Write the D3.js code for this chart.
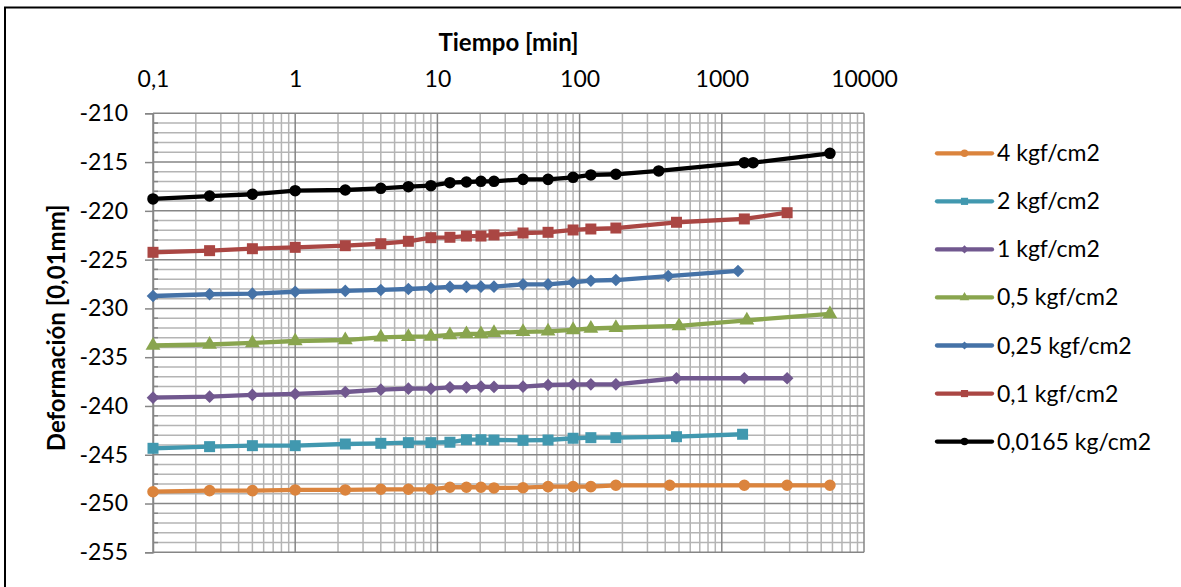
<!DOCTYPE html>
<html><head><meta charset="utf-8">
<script src="https://cdn.jsdelivr.net/npm/d3@7"></script>
<style>
body{margin:0;background:#fff}
svg{display:block}
text{font-family:Lato,'Open Sans',sans-serif;fill:#000}
</style></head>
<body>
<svg id="chart" width="1181" height="587"></svg>
<script>
// ---- data ----
const xTickValues = [0.1, 1, 10, 100, 1000, 10000];
const xTickLabels = ["0,1", "1", "10", "100", "1000", "10000"];
const yTickValues = [-210, -215, -220, -225, -230, -235, -240, -245, -250, -255];

const seriesNames = ["4 kgf/cm2", "2 kgf/cm2", "1 kgf/cm2", "0,5 kgf/cm2", "0,25 kgf/cm2", "0,1 kgf/cm2", "0,0165 kg/cm2"];
const seriesColors = ["#DB843D", "#4198AF", "#71588F", "#89A54E", "#4572A7", "#AA4643", "#000000"];
const seriesMarkers = ["circle", "square", "diamond", "triangle", "diamond", "square", "circle"];

const t4 = [0.1,0.25,0.5,1,2.25,4,6.25,9,12.25,16,20.25,25,40,60,90,120,180,430,1440,2880,5760];
const d4 = [-248.79,-248.68,-248.68,-248.61,-248.61,-248.54,-248.54,-248.54,-248.33,-248.33,-248.33,-248.4,-248.38,-248.27,-248.27,-248.27,-248.13,-248.13,-248.13,-248.13,-248.13];

const t2 = [0.1,0.25,0.5,1,2.25,4,6.25,9,12.25,16,20.25,25,40,60,90,120,180,480,1400];
const d2 = [-244.34,-244.17,-244.07,-244.07,-243.9,-243.83,-243.76,-243.76,-243.72,-243.46,-243.46,-243.49,-243.52,-243.49,-243.31,-243.25,-243.25,-243.15,-242.9];

const t1 = [0.1,0.25,0.5,1,2.25,4,6.25,9,12.25,16,20.25,25,40,60,90,120,180,480,1440,2880];
const d1 = [-239.15,-239.05,-238.87,-238.77,-238.57,-238.33,-238.23,-238.23,-238.09,-238.09,-238.02,-238.05,-238.02,-237.85,-237.8,-237.78,-237.78,-237.16,-237.16,-237.16];

const t05 = [0.1,0.25,0.5,1,2.25,4,6.25,9,12.25,16,20.25,25,40,60,90,120,180,500,1500,5760];
const d05 = [-233.8,-233.7,-233.54,-233.34,-233.24,-232.96,-232.9,-232.88,-232.72,-232.62,-232.62,-232.49,-232.4,-232.35,-232.2,-232.06,-231.98,-231.8,-231.22,-230.57];

const t025 = [0.1,0.25,0.5,1,2.25,4,6.25,9,12.25,16,20.25,25,40,60,90,120,180,420,1300];
const d025 = [-228.73,-228.55,-228.49,-228.29,-228.21,-228.11,-228.01,-227.91,-227.8,-227.8,-227.77,-227.77,-227.53,-227.53,-227.32,-227.16,-227.09,-226.68,-226.16];

const t01 = [0.1,0.25,0.5,1,2.25,4,6.25,9,12.25,16,20.25,25,40,60,90,120,180,480,1440,2880];
const d01 = [-224.25,-224.08,-223.88,-223.74,-223.57,-223.37,-223.12,-222.75,-222.71,-222.58,-222.58,-222.47,-222.27,-222.2,-221.96,-221.86,-221.76,-221.17,-220.83,-220.19];

const t00165 = [0.1,0.25,0.5,1,2.25,4,6.25,9,12.25,16,20.25,25,40,60,90,120,180,360,1440,1660,5760];
const d00165 = [-218.78,-218.48,-218.3,-217.93,-217.86,-217.69,-217.52,-217.42,-217.11,-217.04,-216.97,-216.97,-216.77,-216.77,-216.56,-216.32,-216.25,-215.91,-215.06,-215.06,-214.1];

const seriesTimes = [t4, t2, t1, t05, t025, t01, t00165];
const seriesValues = [d4, d2, d1, d05, d025, d01, d00165];

// ---- layout ----
const svg = d3.select("#chart");
const L = 153, R = 864, T = 113.3, B = 552.3;
const x = d3.scaleLog().domain([0.1, 10000]).range([L, R]);
const y = d3.scaleLinear().domain([-255, -210]).range([B, T]);
const FONT = 23;

// outer frame
svg.append("rect").attr("x", 5).attr("y", 7.5).attr("width", 1300).attr("height", 700)
  .attr("fill", "none").attr("stroke", "#000").attr("stroke-width", 2);

// grid
const grid = svg.append("g");
const minorX = [];
for (let e = -1; e <= 3; e++) for (let k = 2; k <= 9; k++) minorX.push(k * Math.pow(10, e));
grid.selectAll(".mx").data(minorX).enter().append("line")
  .attr("x1", d => x(d)).attr("x2", d => x(d)).attr("y1", T).attr("y2", B)
  .attr("stroke", "#b4b4b4").attr("stroke-width", 1.5);
const minorY = d3.range(-254, -210).filter(v => v % 5 !== 0);
grid.selectAll(".my").data(minorY).enter().append("line")
  .attr("x1", L).attr("x2", R).attr("y1", d => y(d)).attr("y2", d => y(d))
  .attr("stroke", "#b4b4b4").attr("stroke-width", 1.5);
grid.selectAll(".Mx").data(xTickValues).enter().append("line")
  .attr("x1", d => x(d)).attr("x2", d => x(d)).attr("y1", T).attr("y2", B)
  .attr("stroke", "#868686").attr("stroke-width", 1.5);
grid.selectAll(".My").data(yTickValues).enter().append("line")
  .attr("x1", L).attr("x2", R).attr("y1", d => y(d)).attr("y2", d => y(d))
  .attr("stroke", "#868686").attr("stroke-width", 1.5);

// y axis
const yAxis = d3.axisLeft(y).tickValues(yTickValues).tickSize(8).tickPadding(17).tickFormat(d => String(d));
const ya = svg.append("g").attr("transform", `translate(${L},0)`).call(yAxis);
ya.select(".domain").attr("stroke", "#868686").attr("stroke-width", 1.5);
ya.selectAll(".tick line").attr("stroke", "#868686").attr("stroke-width", 1.5);
ya.selectAll(".tick text").attr("font-size", FONT).attr("font-family", "Lato").attr("fill", "#000");
// y minor ticks
svg.append("g").selectAll("line").data(minorY).enter().append("line")
  .attr("x1", L).attr("x2", L + 5).attr("y1", d => y(d)).attr("y2", d => y(d))
  .attr("stroke", "#868686").attr("stroke-width", 1.5);

// x axis (top)
const xAxis = d3.axisTop(x).tickValues(xTickValues).tickSize(0).tickPadding(26)
  .tickFormat((d, i) => xTickLabels[i]);
const xa = svg.append("g").attr("transform", `translate(0,${T})`).call(xAxis);
xa.select(".domain").remove();
xa.selectAll(".tick text").attr("font-size", FONT).attr("font-family", "Lato").attr("fill", "#000");

// titles
svg.append("text").attr("x", (L + R) / 2).attr("y", 51).attr("text-anchor", "middle")
  .attr("font-size", 24).attr("font-weight", "bold").text("Tiempo [min]");
svg.append("text").attr("transform", `translate(65,${(T + B) / 2 - 5}) rotate(-90)`)
  .attr("text-anchor", "middle").attr("font-size", 24).attr("font-weight", "bold")
  .text("Deformación [0,01mm]");

// markers
function markerPath(type, big) {
  const s = big ? 1 : 0.65;
  if (type === "circle") return d3.symbol(d3.symbolCircle, 105 * s * s)();
  if (type === "square") return d3.symbol(d3.symbolSquare, 121 * s * s)();
  if (type === "triangle") return d3.symbol(d3.symbolTriangle, 95 * s * s)();
  return d3.symbol(d3.symbolSquare, 80 * s * s)();
}
function markerRot(type) { return type === "diamond" ? " rotate(45)" : ""; }

const line = d3.line().x(d => x(d[0])).y(d => y(d[1]));
const plot = svg.append("g");
for (let i = seriesNames.length - 1; i >= 0; i--) {
  const pts = seriesTimes[i].map((t, j) => [t, seriesValues[i][j]]);
  const g = plot.append("g");
  g.append("path").datum(pts).attr("d", line).attr("fill", "none")
    .attr("stroke", seriesColors[i]).attr("stroke-width", 4.3).attr("stroke-linejoin", "round");
  g.selectAll("path.m").data(pts).enter().append("path").attr("class", "m")
    .attr("d", markerPath(seriesMarkers[i], true))
    .attr("transform", d => `translate(${x(d[0])},${y(d[1])})${markerRot(seriesMarkers[i])}`)
    .attr("fill", seriesColors[i]);
}

// legend
const legendY0 = 153.3, legendStep = 48.05;
const leg = svg.append("g");
seriesNames.forEach((name, i) => {
  const cy = legendY0 + i * legendStep;
  leg.append("line").attr("x1", 937).attr("x2", 992).attr("y1", cy).attr("y2", cy)
    .attr("stroke", seriesColors[i]).attr("stroke-width", 4.3).attr("stroke-linecap", "round");
  leg.append("path").attr("d", markerPath(seriesMarkers[i], false))
    .attr("transform", `translate(964.5,${cy})${markerRot(seriesMarkers[i])}`)
    .attr("fill", seriesColors[i]);
  leg.append("text").attr("x", 997).attr("y", cy + 8).attr("font-size", FONT).text(name);
});
</script>
</body></html>
